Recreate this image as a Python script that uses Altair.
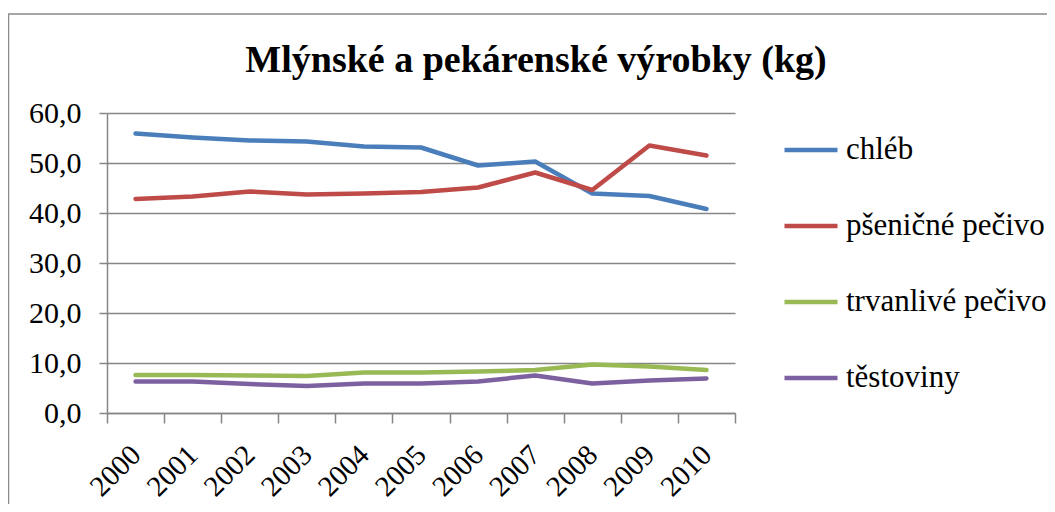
import altair as alt
import pandas as pd

years = [str(y) for y in range(2000, 2011)]
series_names = ["chléb", "pšeničné pečivo", "trvanlivé pečivo", "těstoviny"]
chleb = [55.9, 55.1, 54.5, 54.3, 53.3, 53.1, 49.5, 50.3, 43.9, 43.4, 40.8]
psenicne = [42.8, 43.3, 44.3, 43.7, 43.9, 44.2, 45.1, 48.1, 44.6, 53.5, 51.5]
trvanlive = [7.6, 7.6, 7.5, 7.4, 8.1, 8.1, 8.3, 8.6, 9.7, 9.3, 8.6]
testoviny = [6.3, 6.3, 5.8, 5.4, 5.9, 5.9, 6.3, 7.5, 5.9, 6.5, 6.9]
y_ticks = [0, 10, 20, 30, 40, 50, 60]
colors = ["#4a7ebb", "#be4b48", "#98b954", "#7d60a0"]
title_text = "Mlýnské a pekárenské výrobky (kg)"

FONT = "Liberation Serif"
GRID = "#868686"

rows = []
for i, (name, vals) in enumerate(zip(series_names, [chleb, psenicne, trvanlive, testoviny])):
    for y, v in zip(years, vals):
        rows.append({"rok": y, "hodnota": v, "rada": name, "poradi": i})
df = pd.DataFrame(rows)

lines = alt.Chart(df).mark_line(strokeWidth=4.5, strokeCap="round", strokeJoin="round").encode(
    x=alt.X("rok:O", bandPosition=0.5,
            scale=alt.Scale(type="band", domain=years, paddingInner=0, paddingOuter=0),
            axis=alt.Axis(title=None, labelAngle=315, labelAlign="right", labelBaseline="middle",
                          labelFont=FONT, labelFontSize=29, labelColor="black", labelPadding=27,
                          tickBand="extent", tickSize=10, tickColor=GRID, tickWidth=1.5,
                          domainColor=GRID, domainWidth=1.5, grid=False)),
    y=alt.Y("hodnota:Q", scale=alt.Scale(domain=[0, 60], nice=False),
            axis=alt.Axis(values=y_ticks, title=None,
                          labelExpr="replace(format(datum.value, '.1f'), '.', ',')",
                          grid=True, gridColor=GRID, gridWidth=1.5,
                          tickSize=8, tickColor=GRID, tickWidth=1.5,
                          domainColor=GRID, domainWidth=1.5,
                          labelFont=FONT, labelFontSize=30, labelColor="black", labelPadding=18)),
    color=alt.Color("rada:N", sort=series_names,
                    scale=alt.Scale(domain=series_names, range=colors),
                    legend=alt.Legend(title=None, orient="none", legendX=675, legendY=8,
                                      symbolType="stroke", symbolSize=2809, symbolStrokeWidth=4.5,
                                      labelFont=FONT, labelFontSize=31, labelColor="black",
                                      rowPadding=32, labelOffset=6, labelLimit=400)),
    order=alt.Order("poradi:Q"),
)

frame = alt.Chart(alt.Data(values=[{}])).mark_rect(fill="transparent", stroke="#8a8a8a", strokeWidth=1.5).encode(
    x=alt.value(-98.5), x2=alt.value(1200), y=alt.value(-99), y2=alt.value(700)
)

title = alt.Chart(alt.Data(values=[{"t": title_text}])).mark_text(
    font=FONT, fontSize=38, fontWeight="bold", color="black", align="center", baseline="alphabetic"
).encode(text="t:N", x=alt.value(429), y=alt.value(-41))

chart = alt.layer(frame, lines, title).properties(
    width=628, height=300,
    autosize=alt.AutoSizeParams(type="none"),
    padding={"left": 99, "top": 105, "right": 312, "bottom": 91},
).configure(font=FONT).configure_view(stroke=None).configure_legend(labelFont=FONT).configure_axis(labelFont=FONT)

chart.save("out.html", embed_options={"renderer": "svg", "actions": False})
